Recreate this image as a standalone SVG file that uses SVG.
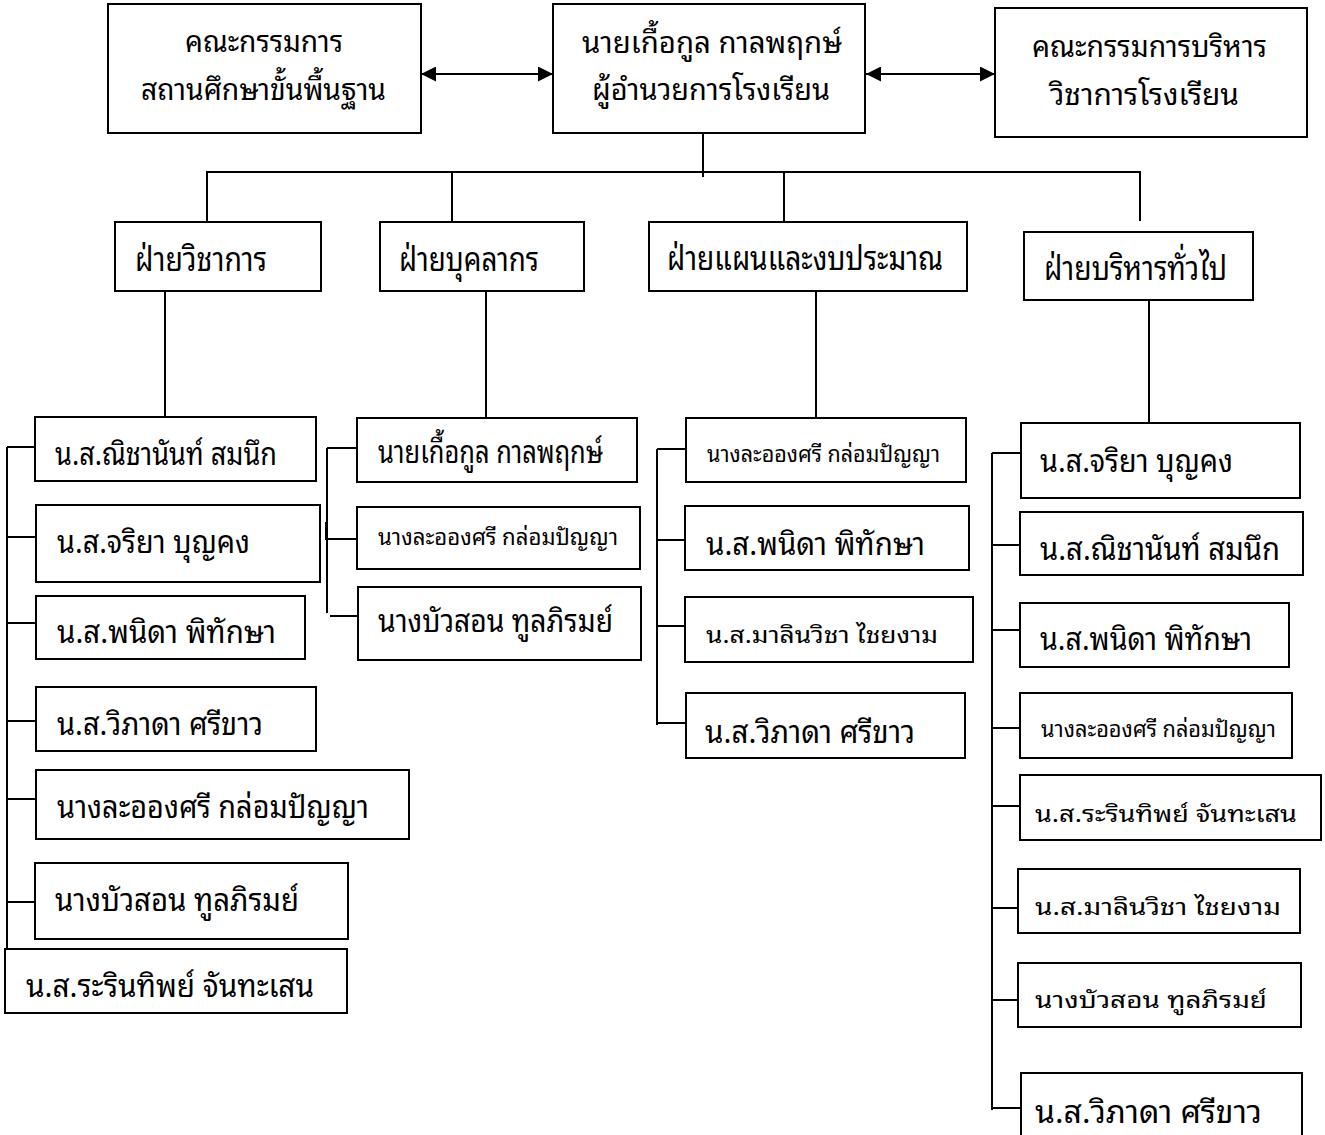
<svg xmlns="http://www.w3.org/2000/svg" width="1325" height="1135" viewBox="0 0 1325 1135">
<style>
.bx{fill:#fff;stroke:#000;stroke-width:2}
.ln{stroke:#000;stroke-width:2;fill:none}
text{font-family:"Noto Sans Thai Looped","Loma","Garuda","Tlwg Typist","Noto Sans Thai","Noto Sans",sans-serif;fill:#000;font-size:31px}
.s{font-size:23px}
.h{font-size:34px}
.t{font-size:30px}
</style>
<defs>
<marker id="ah" viewBox="0 0 15 15" refX="15" refY="7.5" markerWidth="15" markerHeight="15" markerUnits="userSpaceOnUse" orient="auto-start-reverse">
<path d="M0,0 L15,7.5 L0,15 Z" fill="#000"/>
</marker>
</defs>
<rect width="1325" height="1135" fill="#fff"/>
<g id="connectors">
<line class="ln" x1="421" y1="74" x2="553" y2="74" marker-start="url(#ah)" marker-end="url(#ah)"/>
<line class="ln" x1="866" y1="74" x2="995" y2="74" marker-start="url(#ah)" marker-end="url(#ah)"/>
<line class="ln" x1="703" y1="133" x2="703" y2="177"/>
<line class="ln" x1="206" y1="172" x2="1141" y2="172"/>
<line class="ln" x1="207" y1="171" x2="207" y2="222"/>
<line class="ln" x1="452" y1="171" x2="452" y2="222"/>
<line class="ln" x1="784" y1="171" x2="784" y2="222"/>
<line class="ln" x1="1140" y1="171" x2="1140" y2="221"/>
<line class="ln" x1="165" y1="291" x2="165" y2="417"/>
<line class="ln" x1="486" y1="291" x2="486" y2="419"/>
<line class="ln" x1="816" y1="291" x2="816" y2="418"/>
<line class="ln" x1="1149" y1="300" x2="1149" y2="423"/>
<path class="ln" d="M7,447 V949 M7,447 H35 M7,537 H36 M7,623 H36 M7,721 H36 M7,799 H36 M7,902 H35"/>
<path class="ln" d="M327,448 V613 M327,448 H357 M327,539 H357 M330,616 H358"/>
<rect x="325" y="522" width="2" height="18" fill="#000"/>
<path class="ln" d="M657,449 V725 M657,449 H686 M657,540 H686 M657,626 H686 M657,723 H686"/>
<path class="ln" d="M992,453 V1110 M992,453 H1021 M992,545 H1020 M992,630 H1020 M992,728 H1020 M992,806 H1020 M992,908 H1018 M992,1000 H1018 M992,1108 H1021"/>
</g>
<g id="n-board">
<rect class="bx" x="108" y="4" width="313" height="129"/>
<text class="t" x="185" y="52" textLength="158" lengthAdjust="spacingAndGlyphs">คณะกรรมการ</text>
<text class="t" x="141" y="100" textLength="245" lengthAdjust="spacingAndGlyphs">สถานศึกษาขั้นพื้นฐาน</text>
</g>
<g id="n-director">
<rect class="bx" x="553" y="4" width="312" height="129"/>
<text class="t" x="582" y="53" textLength="260" lengthAdjust="spacingAndGlyphs">นายเกื้อกูล  กาลพฤกษ์</text>
<text class="t" x="592" y="100" textLength="238" lengthAdjust="spacingAndGlyphs">ผู้อำนวยการโรงเรียน</text>
</g>
<g id="n-academic-board">
<rect class="bx" x="995" y="8" width="312" height="129"/>
<text class="t" x="1032" y="57" textLength="235" lengthAdjust="spacingAndGlyphs">คณะกรรมการบริหาร</text>
<text class="t" x="1050" y="105" textLength="189" lengthAdjust="spacingAndGlyphs">วิชาการโรงเรียน</text>
</g>
<g id="d-academic">
<rect class="bx" x="115" y="222" width="206" height="69"/>
<text class="h" x="135" y="271" textLength="132" lengthAdjust="spacingAndGlyphs">ฝ่ายวิชาการ</text>
</g>
<g id="d-personnel">
<rect class="bx" x="380" y="222" width="204" height="69"/>
<text class="h" x="399" y="271" textLength="140" lengthAdjust="spacingAndGlyphs">ฝ่ายบุคลากร</text>
</g>
<g id="d-budget">
<rect class="bx" x="649" y="222" width="318" height="69"/>
<text class="h" x="667" y="270" textLength="276" lengthAdjust="spacingAndGlyphs">ฝ่ายแผนและงบประมาณ</text>
</g>
<g id="d-general">
<rect class="bx" x="1024" y="232" width="229" height="68"/>
<text class="h" x="1044" y="280" textLength="183" lengthAdjust="spacingAndGlyphs">ฝ่ายบริหารทั่วไป</text>
</g>
<g id="c1-1"><rect class="bx" x="35" y="417" width="281" height="64"/><text x="55" y="465" textLength="222" lengthAdjust="spacingAndGlyphs">น.ส.ณิชานันท์  สมนึก</text></g>
<g id="c1-2"><rect class="bx" x="36" y="505" width="284" height="77"/><text x="57" y="553" textLength="193" lengthAdjust="spacingAndGlyphs">น.ส.จริยา  บุญคง</text></g>
<g id="c1-3"><rect class="bx" x="36" y="596" width="269" height="63"/><text x="57" y="643" textLength="219" lengthAdjust="spacingAndGlyphs">น.ส.พนิดา  พิทักษา</text></g>
<g id="c1-4"><rect class="bx" x="36" y="687" width="280" height="64"/><text x="57" y="735" textLength="206" lengthAdjust="spacingAndGlyphs">น.ส.วิภาดา ศรีขาว</text></g>
<g id="c1-5"><rect class="bx" x="36" y="770" width="373" height="69"/><text x="57" y="818" textLength="312" lengthAdjust="spacingAndGlyphs">นางละอองศรี  กล่อมปัญญา</text></g>
<g id="c1-6"><rect class="bx" x="35" y="863" width="313" height="76"/><text x="55" y="911" textLength="244" lengthAdjust="spacingAndGlyphs">นางบัวสอน  ทูลภิรมย์</text></g>
<g id="c1-7"><rect class="bx" x="5" y="949" width="342" height="64"/><text x="26" y="997" textLength="288" lengthAdjust="spacingAndGlyphs">น.ส.ระรินทิพย์  จันทะเสน</text></g>
<g id="c2-1"><rect class="bx" x="357" y="418" width="280" height="64"/><text x="378" y="463" textLength="225" lengthAdjust="spacingAndGlyphs">นายเกื้อกูล  กาลพฤกษ์</text></g>
<g id="c2-2"><rect class="bx" x="357" y="507" width="283" height="62"/><text class="s" x="378" y="545" textLength="240" lengthAdjust="spacingAndGlyphs">นางละอองศรี  กล่อมปัญญา</text></g>
<g id="c2-3"><rect class="bx" x="358" y="587" width="283" height="73"/><text x="378" y="632" textLength="235" lengthAdjust="spacingAndGlyphs">นางบัวสอน ทูลภิรมย์</text></g>
<g id="c3-1"><rect class="bx" x="686" y="418" width="280" height="64"/><text class="s" x="707" y="462" textLength="233" lengthAdjust="spacingAndGlyphs">นางละอองศรี  กล่อมปัญญา</text></g>
<g id="c3-2"><rect class="bx" x="685" y="506" width="284" height="64"/><text x="706" y="555" textLength="219" lengthAdjust="spacingAndGlyphs">น.ส.พนิดา  พิทักษา</text></g>
<g id="c3-3"><rect class="bx" x="685" y="597" width="288" height="65"/><text class="s" x="706" y="643" textLength="232" lengthAdjust="spacingAndGlyphs">น.ส.มาลินวิชา  ไชยงาม</text></g>
<g id="c3-4"><rect class="bx" x="686" y="693" width="279" height="65"/><text x="705" y="743" textLength="210" lengthAdjust="spacingAndGlyphs">น.ส.วิภาดา ศรีขาว</text></g>
<g id="c4-1"><rect class="bx" x="1021" y="423" width="279" height="75"/><text x="1040" y="472" textLength="193" lengthAdjust="spacingAndGlyphs">น.ส.จริยา  บุญคง</text></g>
<g id="c4-2"><rect class="bx" x="1020" y="512" width="283" height="63"/><text x="1040" y="560" textLength="240" lengthAdjust="spacingAndGlyphs">น.ส.ณิชานันท์  สมนึก</text></g>
<g id="c4-3"><rect class="bx" x="1020" y="603" width="269" height="64"/><text x="1040" y="650" textLength="212" lengthAdjust="spacingAndGlyphs">น.ส.พนิดา พิทักษา</text></g>
<g id="c4-4"><rect class="bx" x="1020" y="693" width="272" height="65"/><text class="s" x="1041" y="737" textLength="235" lengthAdjust="spacingAndGlyphs">นางละอองศรี  กล่อมปัญญา</text></g>
<g id="c4-5"><rect class="bx" x="1020" y="775" width="301" height="65"/><text class="s" x="1035" y="822" textLength="262" lengthAdjust="spacingAndGlyphs">น.ส.ระรินทิพย์  จันทะเสน</text></g>
<g id="c4-6"><rect class="bx" x="1018" y="869" width="282" height="64"/><text class="s" x="1035" y="915" textLength="246" lengthAdjust="spacingAndGlyphs">น.ส.มาลินวิชา  ไชยงาม</text></g>
<g id="c4-7"><rect class="bx" x="1018" y="963" width="283" height="64"/><text class="s" x="1035" y="1008" textLength="232" lengthAdjust="spacingAndGlyphs">นางบัวสอน  ทูลภิรมย์</text></g>
<g id="c4-8"><rect class="bx" x="1021" y="1073" width="281" height="70"/><text x="1035" y="1123" textLength="227" lengthAdjust="spacingAndGlyphs">น.ส.วิภาดา ศรีขาว</text></g>
</svg>
